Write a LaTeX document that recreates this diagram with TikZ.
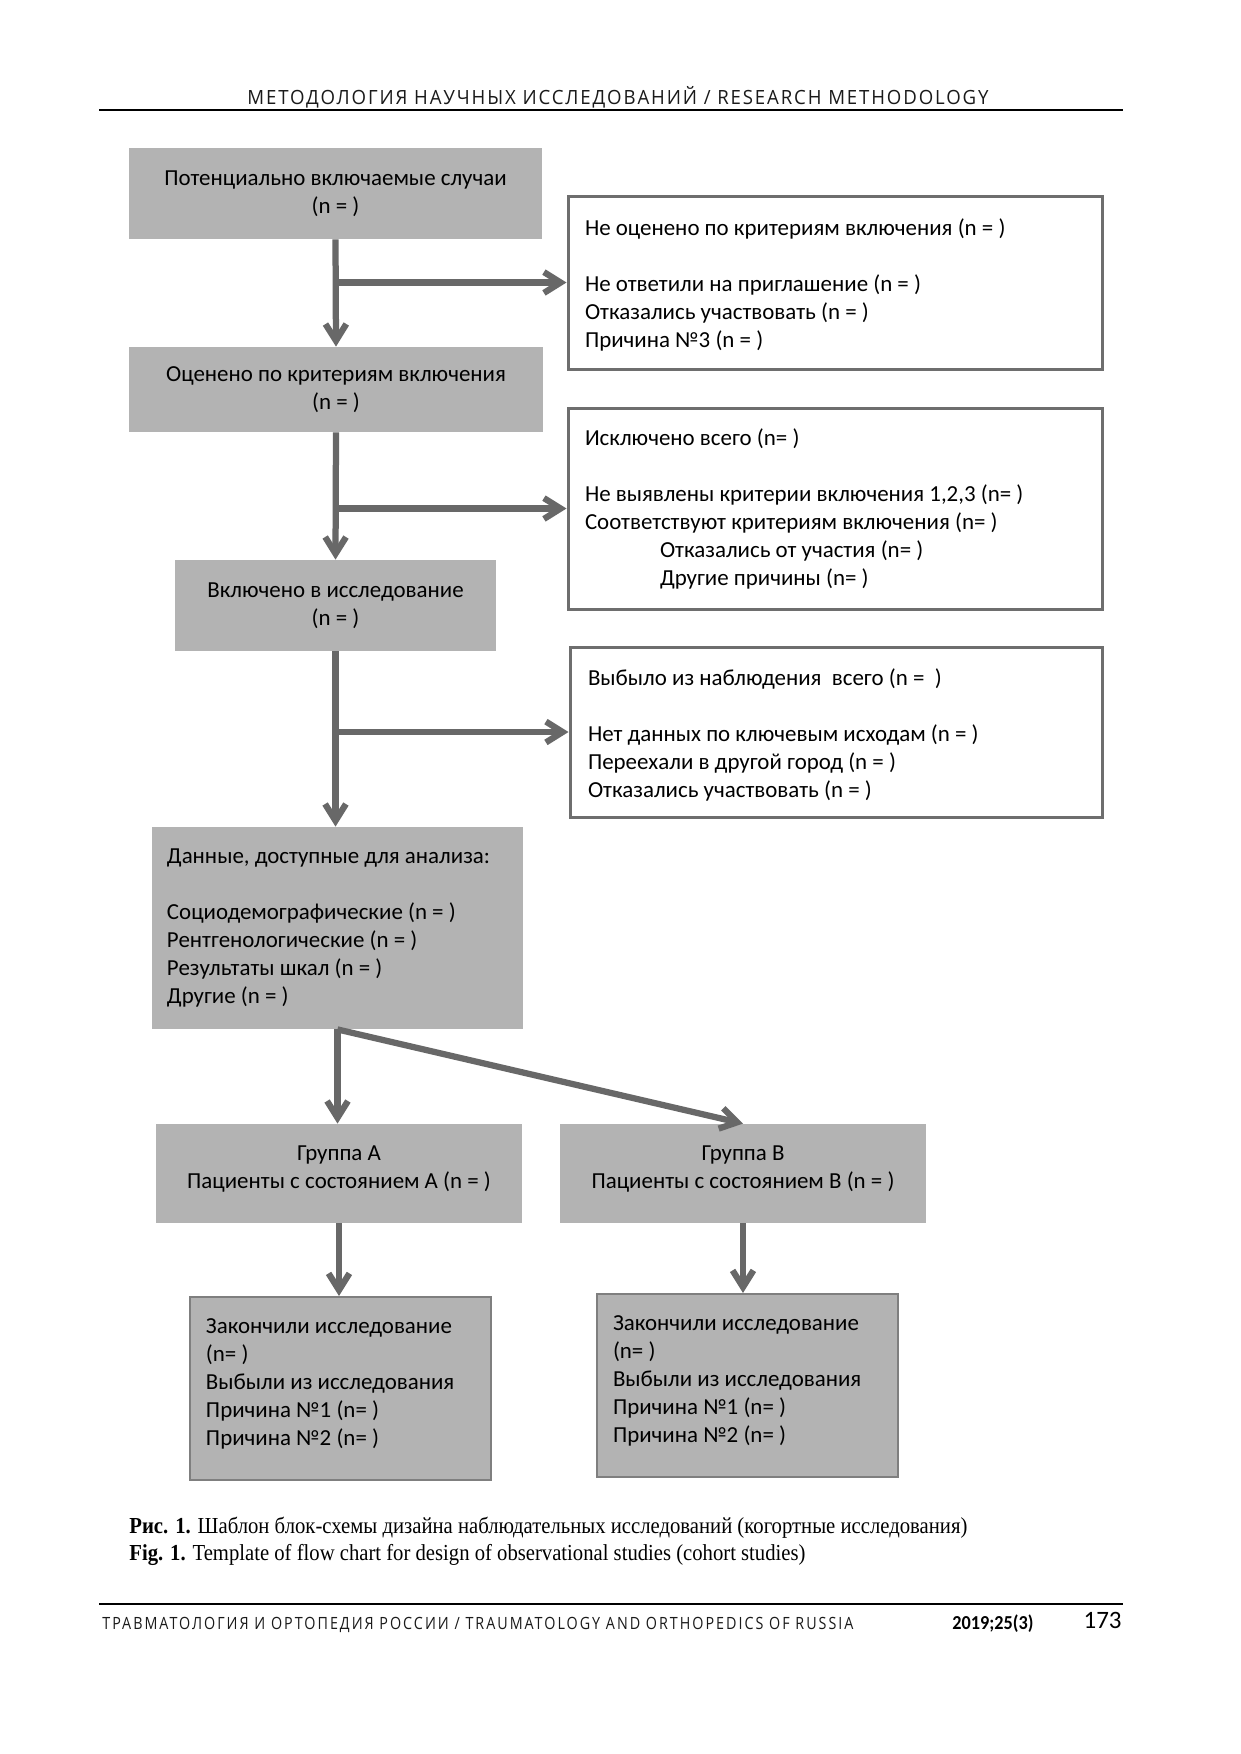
\documentclass[tikz,border=0pt]{standalone}
\usepackage{fontspec}
\usepackage{graphicx}
\usetikzlibrary{arrows.meta}
\newfontfamily\carlito{Carlito}
\newfontfamily\hdrfont[LetterSpace=10]{Open Sans}
\newfontfamily\ftrfont[LetterSpace=14]{Open Sans}
\newfontfamily\capfont{Liberation Serif}
\definecolor{boxgray}{HTML}{B3B3B3}
\definecolor{arrgray}{HTML}{686868}
\definecolor{bordgray}{HTML}{6E6E6E}
\definecolor{bordgray2}{HTML}{7F7F7F}
\definecolor{inkgray}{HTML}{1A1A1A}
\newcommand\boxfont{\carlito\fontsize{11pt}{13.44pt}\selectfont}
\begin{document}
\begin{tikzpicture}[x=0.48pt,y=-0.48pt,
  graybox/.style={fill=boxgray, draw=none, inner sep=0pt},
  whitebox/.style={fill=white, draw=bordgray, line width=1.44pt, inner sep=0pt},
  endbox/.style={fill=boxgray, draw=bordgray2, line width=1pt, inner sep=0pt},
  boxtext/.style={inner sep=0pt, font=\boxfont, align=center},
  lefttext/.style={inner sep=0pt, font=\boxfont, align=flush left},
  arr/.style={draw=arrgray, line width=3pt, -{Straight Barb[length=8pt,width=10pt]}},
  txt/.style={inner sep=0pt},
]
\useasboundingbox[fill=white] (0,0) rectangle (1241,1754);

% header and footer
\node[txt, anchor=base] (hdr) at (618,104) {\hdrfont\fontsize{9.4pt}{11pt}\selectfont\color{inkgray}\resizebox{355.7pt}{\height}{МЕТОДОЛОГИЯ НАУЧНЫХ ИССЛЕДОВАНИЙ / RESEARCH METHODOLOGY}};
\draw[line width=0.7pt] (99,110) -- (1123,110);
\draw[line width=0.7pt] (99,1604) -- (1123,1604);
\node[txt, anchor=base west] (ftr) at (102,1629) {\ftrfont\fontsize{8.1pt}{10pt}\selectfont\color{inkgray}\resizebox{360.5pt}{\height}{ТРАВМАТОЛОГИЯ И ОРТОПЕДИЯ РОССИИ / TRAUMATOLOGY AND ORTHOPEDICS OF RUSSIA}};
\node[txt, anchor=base west] (vol) at (952,1629) {\carlito\bfseries\fontsize{9.5pt}{11pt}\selectfont\resizebox{38.9pt}{\height}{2019;25(3)}};
\node[txt, anchor=base east] (pg) at (1122,1628) {\carlito\fontsize{12pt}{14pt}\selectfont 173};

% caption
\node[txt, anchor=base west] (cap1) at (129,1533) {\capfont\fontsize{11pt}{13pt}\selectfont\resizebox{402.2pt}{\height}{\textbf{Рис. 1.} Шаблон блок-схемы дизайна наблюдательных исследований (когортные исследования)}};
\node[txt, anchor=base west] (cap2) at (129,1560) {\capfont\fontsize{11pt}{13pt}\selectfont\resizebox{324.5pt}{\height}{\textbf{Fig. 1.} Template of flow chart for design of observational studies (cohort studies)}};

% boxes
\node[graybox, minimum width=413*0.48pt, minimum height=91*0.48pt] (b1) at (335.5,193.5) {};
\node[boxtext] (b1t) at (335.5,193.5) {Потенциально включаемые случаи\\(n = )};

\node[whitebox, minimum width=534*0.48pt, minimum height=173*0.48pt] (r1) at (835,282.5) {};
\node[lefttext, text width=240pt] (r1t) at (835,284.7) {Не оценено по критериям включения (n = )\\[13.44pt]Не ответили на приглашение (n = )\\Отказались участвовать (n = )\\Причина №3 (n = )};

\node[graybox, minimum width=414*0.48pt, minimum height=85*0.48pt] (b2) at (336,389.5) {};
\node[boxtext] (b2t) at (336,389.5) {Оценено по критериям включения\\(n = )};

\node[whitebox, minimum width=534*0.48pt, minimum height=201*0.48pt] (r2) at (835,508.5) {};
\node[lefttext, text width=240pt] (r2t) at (835,509) {Исключено всего (n= )\\[13.44pt]Не выявлены критерии включения 1,2,3 (n= )\\Соответствуют критериям включения (n= )\\\hspace*{36pt}Отказались от участия (n= )\\\hspace*{36pt}Другие причины (n= )};

\node[graybox, minimum width=321*0.48pt, minimum height=91*0.48pt] (b3) at (335.5,605.5) {};
\node[boxtext] (b3t) at (335.5,605.5) {Включено в исследование\\(n = )};

\node[whitebox, minimum width=532*0.48pt, minimum height=170*0.48pt] (r3) at (836,732) {};
\node[lefttext, text width=238.08pt] (r3t) at (836,735.4) {Выбыло из наблюдения\ \ всего (n =\ \ )\\[13.44pt]Нет данных по ключевым исходам (n = )\\Переехали в другой город (n = )\\Отказались участвовать (n = )};

\node[graybox, minimum width=371*0.48pt, minimum height=202*0.48pt] (b4) at (337.5,928) {};
\node[lefttext, text width=163.68pt] (b4t) at (337.5,928) {Данные, доступные для анализа:\\[13.44pt]Социодемографические (n = )\\Рентгенологические (n = )\\Результаты шкал (n = )\\Другие (n = )};

\node[graybox, minimum width=366*0.48pt, minimum height=99*0.48pt] (ga) at (339,1173.5) {};
\node[boxtext] (gat) at (339,1169.5) {Группа А\\Пациенты с состоянием А (n = )};
\node[graybox, minimum width=366*0.48pt, minimum height=99*0.48pt] (gb) at (743,1173.5) {};
\node[boxtext] (gbt) at (743,1169.5) {Группа В\\Пациенты с состоянием В (n = )};

\node[endbox, minimum width=301*0.48pt, minimum height=183*0.48pt] (ea) at (340.5,1388.5) {};
\node[lefttext, text width=129.12pt] (eat) at (340.5,1384) {Закончили исследование\\(n= )\\Выбыли из исследования\\Причина №1 (n= )\\Причина №2 (n= )};
\node[endbox, minimum width=301*0.48pt, minimum height=183*0.48pt] (eb) at (747.5,1385.5) {};
\node[lefttext, text width=129.12pt] (ebt) at (747.5,1381) {Закончили исследование\\(n= )\\Выбыли из исследования\\Причина №1 (n= )\\Причина №2 (n= )};

% connectors
\draw[arr] (b1.south) -- (b2.north);
\draw[arr] (b1.south |- r1.west) -- (r1.west);
\draw[arr] (b2.south) -- (b3.north);
\draw[arr] (b2.south |- r2.west) -- (r2.west);
\draw[arr] (b3.south) -- (b3.south |- b4.north);
\draw[arr] (b3.south |- r3.west) -- (r3.west);
\draw[arr] (b4.south) -- (b4.south |- ga.north);
\draw[arr] (b4.south) -- (gb.north);
\draw[arr] (ga.south) -- (ga.south |- ea.north);
\draw[arr] (gb.south) -- (gb.south |- eb.north);
\end{tikzpicture}
\end{document}
